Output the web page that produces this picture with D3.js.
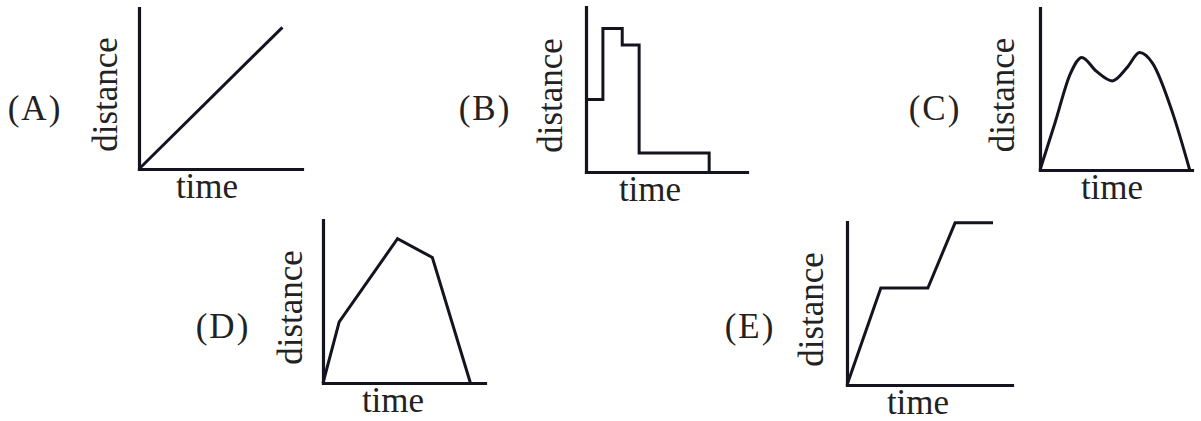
<!DOCTYPE html>
<html>
<head>
<meta charset="utf-8">
<script src="https://cdn.jsdelivr.net/npm/d3@7"></script>
<style>
  body { margin: 0; background: #fff; }
  svg { display: block; }
  text { font-family: "Times New Roman", "Liberation Serif", serif; fill: #222; }
</style>
</head>
<body>
<div class="chart"></div>
<script>
// labels
const panelLabels = ["(A)", "(B)", "(C)", "(D)", "(E)"]
const xLabel = "time"
const yLabel = "distance"

// series (time 0-10, distance 0-10)
const timeA = [0, 8.8]
const distA = [0, 8.8]

const timeB = [0, 1.05, 2.25, 3.3, 7.65]
const distB = [4.4, 8.7, 7.7, 1.15, 0]

const timeC = [0, 1.0, 2.0, 2.75, 3.7, 4.75, 5.75, 6.55, 7.4, 8.75, 9.85]
const distC = [0, 2.95, 5.95, 6.95, 6.1, 5.5, 6.35, 7.25, 6.6, 3.45, 0]

const timeD = [0, 1.0, 4.6, 6.75, 9.1]
const distD = [0, 3.75, 8.85, 7.7, 0]

const timeE = [0, 2.05, 4.9, 6.55, 8.85]
const distE = [0, 5.95, 5.95, 9.95, 9.95]

// layout: plot box of each panel (left, top, right, bottom) and label spots
const panels = [
  {name: panelLabels[0], t: timeA, d: distA, curve: d3.curveLinear,    box: [139, 8, 302, 169],   lab: [35, 120],   yl: 106,  xl: 207},
  {name: panelLabels[1], t: timeB, d: distB, curve: d3.curveStepAfter, box: [586, 7, 747, 172],   lab: [485, 120],  yl: 551,  xl: 650},
  {name: panelLabels[2], t: timeC, d: distC, curve: d3.curveMonotoneX, box: [1040, 8, 1192, 170], lab: [935, 120],  yl: 1003, xl: 1112},
  {name: panelLabels[3], t: timeD, d: distD, curve: d3.curveLinear,    box: [323, 220, 485, 383], lab: [223, 338],  yl: 291,  xl: 393},
  {name: panelLabels[4], t: timeE, d: distE, curve: d3.curveLinear,    box: [847, 222, 1012, 385], lab: [750, 338], yl: 812,  xl: 918}
]

const svg = d3.select(".chart").append("svg")
  .attr("width", 1201)
  .attr("height", 421)

panels.forEach(p => {
  const [x0, y0, x1, y1] = p.box
  const x = d3.scaleLinear().domain([0, 10]).range([x0, x1])
  const y = d3.scaleLinear().domain([0, 10]).range([y1, y0])
  const g = svg.append("g")

  // bare axes, no ticks
  g.append("g")
    .attr("transform", `translate(0,${y(0)})`)
    .call(d3.axisBottom(x).ticks(0).tickSizeOuter(0))
  g.append("g")
    .attr("transform", `translate(${x(0)},0)`)
    .call(d3.axisLeft(y).ticks(0).tickSizeOuter(0))
  g.selectAll(".domain")
    .attr("stroke", "#141420")
    .attr("stroke-width", 3.2)
    .attr("stroke-linecap", "square")

  const line = d3.line()
    .x((d, i) => x(p.t[i]))
    .y(d => y(d))
    .curve(p.curve)
  g.append("path")
    .datum(p.d)
    .attr("fill", "none")
    .attr("stroke", "#141420")
    .attr("stroke-width", 3)
    .attr("stroke-linejoin", "miter")
    .attr("d", line)

  g.append("text")
    .attr("x", p.lab[0]).attr("y", p.lab[1])
    .attr("text-anchor", "middle")
    .style("font-size", "35px")
    .style("letter-spacing", "2px")
    .text(p.name)

  g.append("text")
    .attr("transform", `translate(${p.yl + 11},${(y0 + y1) / 2 + 6}) rotate(-90)`)
    .attr("text-anchor", "middle")
    .style("font-size", "35px")
    .text(yLabel)

  g.append("text")
    .attr("x", p.xl).attr("y", y1 + 29)
    .attr("text-anchor", "middle")
    .style("font-size", "35px")
    .text(xLabel)
})
</script>
</body>
</html>
